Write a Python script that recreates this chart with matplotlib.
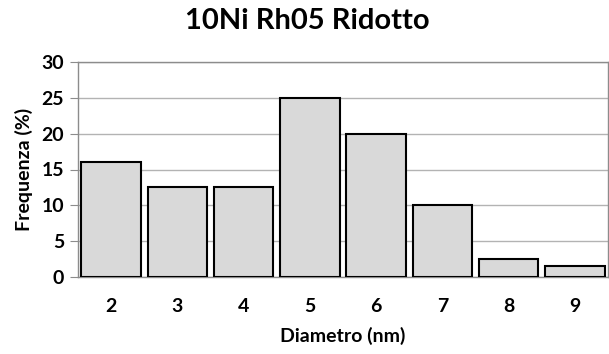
import matplotlib
matplotlib.use("Agg")
import matplotlib.pyplot as plt

diametri = ["2", "3", "4", "5", "6", "7", "8", "9"]
frequenze = [16, 12.5, 12.5, 25, 20, 10, 2.5, 1.5]
y_ticks = [0, 5, 10, 15, 20, 25, 30]

plt.rcParams['font.family'] = ['Lato', 'DejaVu Sans']
plt.rcParams['font.weight'] = 'bold'

fig = plt.figure(figsize=(6.09, 3.54), dpi=100)
ax = fig.add_axes([78/609, 1 - 277/354, 530/609, 215/354])

x = range(len(diametri))
ax.bar(x, frequenze, width=0.9, color='#d9d9d9', edgecolor='black', linewidth=1.5, zorder=3)
ax.set_xlim(-0.5, len(diametri) - 0.5)
ax.set_ylim(0, 30)
ax.set_xticks(list(x))
ax.set_xticklabels(diametri)
ax.set_yticks(y_ticks)
ax.grid(axis='y', color='#b3b3b3', linewidth=1, zorder=0)

for s in ax.spines.values():
    s.set_color('#8c8c8c')
    s.set_linewidth(1)

ax.tick_params(axis='x', length=0, labelsize=14, pad=15)
ax.tick_params(axis='y', length=6, color='#8c8c8c', labelsize=14, pad=4)

# titolo centrato sulla figura, non sugli assi
fig.text(307/609, 1 - 21/354, '10Ni Rh05 Ridotto', fontsize=21, fontweight='bold',
         ha='center', va='center')
ax.set_xlabel('Diametro (nm)', fontsize=14, fontweight='bold', labelpad=9)
ax.set_ylabel('Frequenza (%)', fontsize=14, fontweight='bold', labelpad=6)

fig.savefig('out.png', dpi=100)
